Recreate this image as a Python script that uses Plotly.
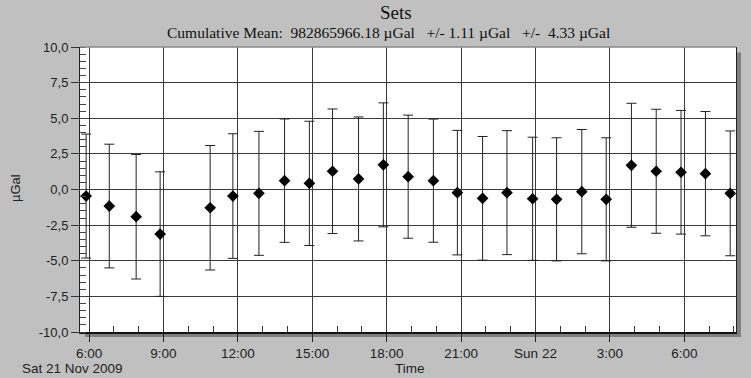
import plotly.graph_objects as go

# ---- data ----
times = ["2009-11-21 05:53", "2009-11-21 06:49", "2009-11-21 07:54", "2009-11-21 08:52",
         "2009-11-21 10:53", "2009-11-21 11:48", "2009-11-21 12:51", "2009-11-21 13:53",
         "2009-11-21 14:53", "2009-11-21 15:49", "2009-11-21 16:52", "2009-11-21 17:52",
         "2009-11-21 18:52", "2009-11-21 19:53", "2009-11-21 20:51", "2009-11-21 21:52",
         "2009-11-21 22:51", "2009-11-21 23:53", "2009-11-22 00:51", "2009-11-22 01:52",
         "2009-11-22 02:51", "2009-11-22 03:52", "2009-11-22 04:52", "2009-11-22 05:52",
         "2009-11-22 06:51", "2009-11-22 07:51"]
values = [-0.46, -1.16, -1.91, -3.13, -1.28, -0.46, -0.27, 0.62, 0.43, 1.28, 0.74, 1.73,
          0.90, 0.62, -0.22, -0.62, -0.22, -0.65, -0.69, -0.15, -0.69, 1.70, 1.28, 1.21,
          1.11, -0.27]
errors = [4.35, 4.34, 4.37, 4.37, 4.37, 4.37, 4.35, 4.33, 4.36, 4.37, 4.35, 4.35, 4.32,
          4.32, 4.37, 4.34, 4.35, 4.32, 4.32, 4.36, 4.32, 4.35, 4.35, 4.34, 4.36, 4.38]

x_tick_vals = ["2009-11-21 06:00", "2009-11-21 09:00", "2009-11-21 12:00", "2009-11-21 15:00",
               "2009-11-21 18:00", "2009-11-21 21:00", "2009-11-22 00:00", "2009-11-22 03:00",
               "2009-11-22 06:00"]
x_tick_labels = ["6:00", "9:00", "12:00", "15:00", "18:00", "21:00", "Sun 22", "3:00", "6:00"]
x_range = ["2009-11-21 05:38:10", "2009-11-22 08:05"]

y_tick_vals = [-10, -7.5, -5, -2.5, 0, 2.5, 5, 7.5, 10]
y_tick_labels = ["-10,0", "-7,5", "-5,0", "-2,5", "0,0", "2,5", "5,0", "7,5", "10,0"]

title_text = "Sets"
subtitle_text = ("Cumulative Mean:\u00a0 982865966.18 µGal \u00a0 +/- 1.11 µGal \u00a0 +/-\u00a0 4.33 µGal")
date_label = "Sat 21 Nov 2009"
x_title = "Time"
y_title = "µGal"

# ---- figure ----
W, H = 751, 378
L, R, T, B = 80, 15, 47, 46
pw, ph = W - L - R, H - T - B


def px2x(px):
    return (px - L) / pw


def py2y(py):
    return (H - B - py) / ph


fig = go.Figure()
fig.add_trace(go.Scatter(
    x=times, y=values, mode="markers",
    marker=dict(symbol="diamond", size=9, color="black"),
    error_y=dict(type="data", array=errors, visible=True, color="#222222",
                 thickness=1, width=5),
    showlegend=False,
))

xfont = dict(family="Liberation Sans, Arial", size=13.5, color="#222222")
yfont = dict(family="Liberation Sans, Arial", size=13, color="#222222")

fig.update_xaxes(
    type="date", range=x_range, tickmode="array", tickvals=x_tick_vals, ticktext=x_tick_labels,
    ticks="outside", ticklen=8, tickcolor="#222222", tickfont=xfont,
    showgrid=True, gridcolor="#3a3a3a", gridwidth=1,
    showline=True, linecolor="#111111", linewidth=1.5, mirror=False, zeroline=False,
    minor=dict(ticks="inside", ticklen=6, tickcolor="#333333", tickmode="linear",
               tick0="2009-11-21 06:00", dtick=3600000, showgrid=False),
)
fig.update_yaxes(
    range=[-10, 10], tickmode="array", tickvals=y_tick_vals, ticktext=y_tick_labels,
    ticks="outside", ticklen=8, tickcolor="#333333", tickfont=yfont,
    showgrid=True, gridcolor="#3a3a3a", gridwidth=1,
    showline=True, linecolor="#222222", linewidth=1, mirror=True, zeroline=False,
    minor=dict(ticks="inside", ticklen=6, tickcolor="#444444", tickmode="linear",
               tick0=-10, dtick=0.5, showgrid=False),
)

shapes = [
    # drop shadow right and bottom
    dict(type="rect", xref="paper", yref="paper", layer="below",
         x0=px2x(737), x1=px2x(741), y0=py2y(337), y1=py2y(52.5),
         fillcolor="#808080", line=dict(width=0)),
    dict(type="rect", xref="paper", yref="paper", layer="below",
         x0=px2x(85), x1=px2x(741), y0=py2y(337), y1=py2y(332.5),
         fillcolor="#808080", line=dict(width=0)),
    # top border
    dict(type="line", xref="paper", yref="paper", x0=0, x1=1, y0=1, y1=1,
         line=dict(color="#8a8a8a", width=1.5)),
]

annotations = [
    dict(text=title_text, x=px2x(396), y=py2y(12), xref="paper", yref="paper",
         showarrow=False, xanchor="center", yanchor="middle",
         font=dict(family="Liberation Serif, Times New Roman", size=19, color="#111111")),
    dict(text=subtitle_text, x=px2x(388), y=py2y(32), xref="paper", yref="paper",
         showarrow=False, xanchor="center", yanchor="middle",
         font=dict(family="Liberation Serif, Times New Roman", size=15.5, color="#111111")),
    dict(text=date_label, x=px2x(20), y=py2y(368), xref="paper", yref="paper",
         showarrow=False, xanchor="left", yanchor="middle", font=xfont),
    dict(text=x_title, x=px2x(410), y=py2y(368), xref="paper", yref="paper",
         showarrow=False, xanchor="center", yanchor="middle", font=xfont),
    dict(text=y_title, x=px2x(15), y=py2y(188), xref="paper", yref="paper",
         showarrow=False, xanchor="center", yanchor="middle", textangle=-90,
         font=yfont),
]

fig.update_layout(
    width=W, height=H, margin=dict(l=L, r=R, t=T, b=B, pad=0),
    paper_bgcolor="#c0c0c0", plot_bgcolor="white",
    shapes=shapes, annotations=annotations, showlegend=False,
)

fig.write_html("out.html", config={"displayModeBar": False},
               post_script="document.body.style.margin='0';document.body.style.overflow='hidden';")
